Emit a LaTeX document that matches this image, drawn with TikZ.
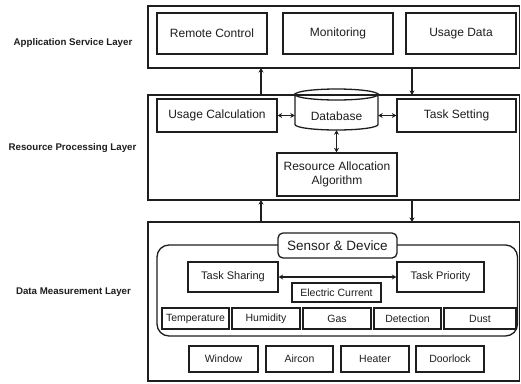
\documentclass[tikz,border=0pt]{standalone}
\usepackage{fontspec}
\setmainfont{Liberation Sans}
\usetikzlibrary{arrows.meta}
\definecolor{ink}{HTML}{1E1E1E}
\begin{document}
\begin{tikzpicture}[x=1pt,y=-1pt,
  layer/.style={draw=ink, line width=1.4pt, inner sep=0pt},
  box/.style={draw=ink, line width=1.3pt, inner sep=0pt, text=ink, font=\fontsize{12}{13.5}\selectfont, align=center},
  sbox/.style={box, font=\fontsize{11}{12}\selectfont},
  tbox/.style={box, line width=1.2pt, font=\fontsize{10.5}{12}\selectfont},
  lab/.style={font=\bfseries\fontsize{9.7}{12}\selectfont, text=ink},
  arr/.style={draw=ink, line width=1.1pt, -{Stealth[length=4.5pt,width=5pt]}},
  darr/.style={draw=ink, line width=1.1pt, {Stealth[length=4.5pt,width=5pt]}-{Stealth[length=4.5pt,width=5pt]}}
]
\useasboundingbox (0,0) rectangle (521,383);
\fill[white] (0,0) rectangle (521,383);

% layers
\node[layer, minimum width=371.5pt, minimum height=62pt] (L1) at (333.75,37) {};
\node[layer, minimum width=371.5pt, minimum height=105pt] (L2) at (333.75,147.5) {};
\node[layer, minimum width=371.5pt, minimum height=159pt] (L3) at (333.75,301.5) {};

% labels
\node[lab] (t1) at (73,43) {Application Service Layer};
\node[lab] (t2) at (72.5,148) {Resource Processing Layer};
\node[lab] (t3) at (73.5,292) {Data Measurement Layer};

% application layer
\node[box, minimum width=110pt, minimum height=41pt] (rc) at (212,33.5) {Remote Control};
\node[box, minimum width=110pt, minimum height=41pt] (mon) at (338,33.5) {Monitoring};
\node[box, minimum width=110pt, minimum height=41pt] (ud) at (461,33.5) {Usage Data};

% resource processing layer
\node[box, minimum width=120pt, minimum height=33pt] (uc) at (217,115.5) {Usage Calculation};
\node[box, minimum width=119pt, minimum height=33pt] (ts) at (456.5,115.5) {Task Setting};
\node[box, minimum width=120pt, minimum height=43pt] (ra) at (337,174.5) {Resource Allocation\\Algorithm};
\node[inner sep=0pt, minimum width=83pt, minimum height=41pt] (db) at (336.5,109.5) {};
\draw[ink, line width=1.3pt, fill=white] (295,94.5) arc[start angle=180, end angle=360, x radius=41.5, y radius=-5.5]
  -- (378,124.5) arc[start angle=0, end angle=-180, x radius=41.5, y radius=-5.5] -- cycle;
\draw[ink, line width=1.3pt] (295,94.5) arc[start angle=180, end angle=0, x radius=41.5, y radius=-5.5];
\node[text=ink, font=\fontsize{12}{13.5}\selectfont] (dbt) at (336.5,116) {Database};

\draw[darr] (uc.east) -- (db.west |- uc.east);
\draw[darr] (db.east |- ts.west) -- (ts.west);
\draw[darr] (db.south) -- (ra.north -| db.south);

% layer arrows
\coordinate (a1) at (261,95); \coordinate (a2) at (261,68);
\coordinate (b1) at (412,68); \coordinate (b2) at (412,95);
\coordinate (c1) at (261,222); \coordinate (c2) at (261,200);
\coordinate (d1) at (412,200); \coordinate (d2) at (412,222);
\draw[arr] (a1) -- (a2);
\draw[arr] (b1) -- (b2);
\draw[arr] (c1) -- (c2);
\draw[arr] (d1) -- (d2);

% data measurement layer
\draw[ink, line width=1.3pt, rounded corners=12pt] (157,245) rectangle (517.5,336);
\node[box, rounded corners=5pt, fill=white, minimum width=119pt, minimum height=25pt, font=\fontsize{13.5}{15}\selectfont] (sd) at (337.5,245.5) {Sensor \& Device};
\node[sbox, minimum width=90pt, minimum height=30pt] (tsh) at (233,277) {Task Sharing};
\node[sbox, minimum width=87pt, minimum height=30pt] (tp) at (440.5,277) {Task Priority};
\node[tbox, minimum width=89pt, minimum height=19pt] (ec) at (336.5,292.5) {Electric Current};
\draw[darr] (tsh.east) -- (tp.west);

\node[tbox, minimum width=67pt, minimum height=21pt] (tem) at (195.5,318.5) {Temperature};
\node[tbox, minimum width=68pt, minimum height=21pt] (hum) at (266,318.5) {Humidity};
\node[tbox, minimum width=68pt, minimum height=21pt] (gas) at (337,318.5) {Gas};
\node[tbox, minimum width=67pt, minimum height=21pt] (det) at (407.5,318.5) {Detection};
\node[tbox, minimum width=72pt, minimum height=21pt] (dus) at (480,318.5) {Dust};

\node[tbox, minimum width=69pt, minimum height=26pt] (win) at (223.5,359) {Window};
\node[tbox, minimum width=67pt, minimum height=26pt] (air) at (299.5,359) {Aircon};
\node[tbox, minimum width=68pt, minimum height=26pt] (hea) at (375,359) {Heater};
\node[tbox, minimum width=68pt, minimum height=26pt] (doo) at (450,359) {Doorlock};
\end{tikzpicture}
\end{document}
